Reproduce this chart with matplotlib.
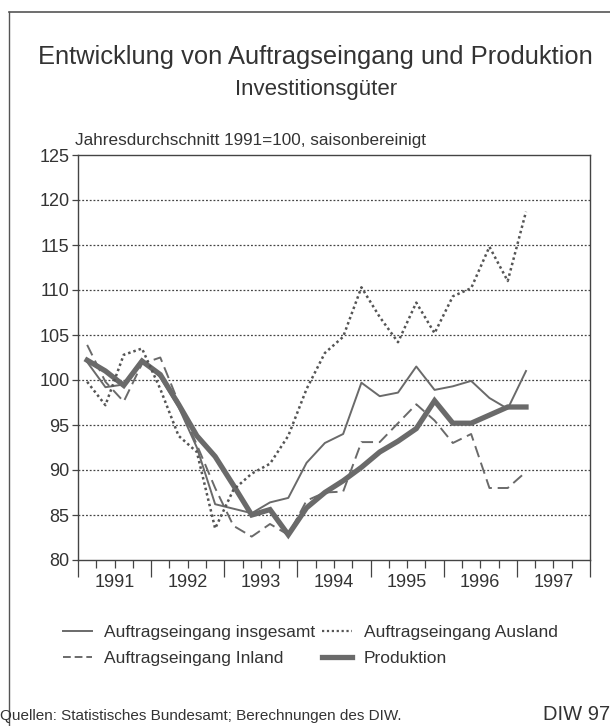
import matplotlib.pyplot as plt
from matplotlib.lines import Line2D
from matplotlib.ticker import MultipleLocator, FuncFormatter
import numpy as np

plt.rcParams['font.family'] = ['Liberation Sans', 'DejaVu Sans']

# quarterly values, 1991 Q1 .. 1997 Q1
years = [1991, 1992, 1993, 1994, 1995, 1996, 1997]
start_year = 1991
n_quarters = 25

insgesamt = [102.0, 99.2, 99.5, 102.3, 100.3, 97.0, 92.5, 86.2,
             85.7, 85.2, 86.4, 86.9, 90.8, 93.0, 94.0, 99.7,
             98.2, 98.6, 101.5, 98.9, 99.3, 99.9, 98.0, 96.8, 101.0]
ausland = [99.8, 97.2, 102.8, 103.5, 99.0, 93.8, 92.0, 83.5,
           87.8, 89.6, 90.7, 93.8, 99.0, 103.0, 104.8, 110.3,
           107.0, 104.2, 108.6, 105.2, 109.3, 110.2, 114.8, 111.0, 118.7]
inland = [103.9, 99.8, 97.6, 101.8, 102.5, 97.5, 92.8, 88.0,
          83.8, 82.6, 84.0, 82.8, 86.6, 87.5, 87.6, 93.1,
          93.1, 95.2, 97.3, 95.5, 93.0, 94.0, 88.0, 88.0, 89.8]
produktion = [102.2, 101.0, 99.4, 102.1, 100.6, 97.3, 93.8, 91.5,
              88.3, 85.0, 85.6, 82.8, 85.8, 87.5, 88.8, 90.3,
              92.0, 93.2, 94.6, 97.7, 95.2, 95.2, 96.1, 97.0, 97.0]

labels = ['Auftragseingang insgesamt', 'Auftragseingang Inland',
          'Auftragseingang Ausland', 'Produktion']

x = start_year + (np.arange(n_quarters) + 0.5) / 4.0
grey = '#6a6a6a'
txt = '#333333'

fig = plt.figure(figsize=(6.1, 7.26), dpi=100)
ax = fig.add_axes([78/610, 1 - 560/726, 512/610, 405/726])

ax.plot(x, produktion, color=grey, lw=3.8, solid_joinstyle='miter', zorder=3)
ax.plot(x, insgesamt, color=grey, lw=1.4, zorder=4)
ax.plot(x, inland, color=grey, lw=1.4, dashes=(6, 3), zorder=4)
ax.plot(x, ausland, color='#555555', lw=1.8, dashes=(1, 1.2), zorder=4)

ax.set_xlim(1991, 1998)
ax.set_ylim(80, 125)
ax.set_yticks(range(80, 130, 5))
for v in range(85, 125, 5):
    ax.axhline(v, color='#444444', lw=0.9, dashes=(1.5, 1.5), zorder=1)

ax.xaxis.set_major_locator(MultipleLocator(1))
ax.xaxis.set_minor_locator(MultipleLocator(0.25))
ax.xaxis.set_major_formatter(FuncFormatter(lambda v, p: ''))
ax.xaxis.set_minor_formatter(
    FuncFormatter(lambda v, p: str(int(v)) if abs(v % 1 - 0.5) < 1e-6 and int(v) in years else ''))
ax.tick_params(axis='x', which='major', length=12, width=0.9, color='#444444')
ax.tick_params(axis='x', which='minor', length=6, width=0.9, color='#444444',
               labelsize=13, pad=4, labelcolor=txt)
ax.tick_params(axis='y', length=4, width=0.9, color='#444444', labelsize=13,
               labelcolor=txt, pad=2)
for s in ax.spines.values():
    s.set_color('#444444')
    s.set_linewidth(1.0)

fig.text(315/610, 1 - 57/726, 'Entwicklung von Auftragseingang und Produktion',
         ha='center', va='center', fontsize=18.4, color=txt)
fig.text(316/610, 1 - 89/726, 'Investitionsgüter', ha='center', va='center',
         fontsize=16, color=txt)
fig.text(75/610, 1 - 140/726, 'Jahresdurchschnitt 1991=100, saisonbereinigt',
         ha='left', va='center', fontsize=12.3, color=txt)

handles = [Line2D([], [], color=grey, lw=1.4),
           Line2D([], [], color=grey, lw=1.4, dashes=(4, 2)),
           Line2D([], [], color='#555555', lw=1.6, dashes=(1, 1.2)),
           Line2D([], [], color=grey, lw=3.8)]
fig.legend(handles, labels, ncol=2, frameon=False, fontsize=12.5,
           loc='upper left', bbox_to_anchor=(47/610, 1 - 609/726),
           handlelength=1.7, handletextpad=0.7, columnspacing=0.4,
           labelspacing=0.65, labelcolor=txt)

fig.text(0, 1 - 716/726, 'Quellen: Statistisches Bundesamt; Berechnungen des DIW.',
         ha='left', va='center', fontsize=11, color=txt)
fig.text(1.0, 1 - 714/726, 'DIW 97', ha='right', va='center',
         fontsize=14.5, color=txt)

# outer frame (top and left edge)
fig.add_artist(Line2D([9/610, 1], [1 - 12/726] * 2, color='#555555', lw=1.2))
fig.add_artist(Line2D([9/610] * 2, [1 - 12/726, 0], color='#555555', lw=1.0))

fig.savefig('out.png', dpi=100)
